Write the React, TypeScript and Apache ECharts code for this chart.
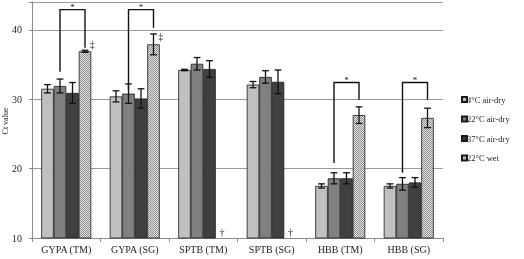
import React, { useEffect, useRef } from "react";
import * as echarts from "echarts";

// Gene targets on the category axis
const categories = ["GYPA (TM)", "GYPA (SG)", "SPTB (TM)", "SPTB (SG)", "HBB (TM)", "HBB (SG)"];
const seriesNames = ["4°C air-dry", "22°C air-dry", "37°C air-dry", "22°C wet"];
const yAxisTitle = "Ct value";

// Mean Ct values per storage condition
const ct4 = [31.5, 30.4, 34.2, 32.1, 17.5, 17.5];
const ct22 = [31.9, 30.8, 35.1, 33.2, 18.6, 17.8];
const ct37 = [30.9, 30.1, 34.35, 32.5, 18.6, 18.0];
const ctWet: (number | null)[] = [36.9, 37.9, null, null, 27.7, 27.3];

// Standard deviations
const sd4 = [0.6, 0.8, 0.1, 0.45, 0.3, 0.3];
const sd22 = [1.0, 1.4, 0.9, 0.9, 0.8, 0.9];
const sd37 = [1.5, 1.4, 1.2, 1.7, 0.8, 0.7];
const sdWet: (number | null)[] = [0.15, 1.5, null, null, 1.2, 1.4];

// Significance brackets: category, bracket top, left leg end, right leg end (Ct units)
const bracketCats = [0, 1, 4, 5];
const bracketTop = [42.9, 42.9, 32.4, 32.4];
const bracketLeftEnd = [33.95, 31.4, 20.8, 19.4];
const bracketRightEnd = [37.4, 40.3, 29.9, 29.9];

// Footnote symbols: category, Ct position, glyph
const noteCats = [0, 1, 2, 3];
const noteValues = [37.9, 39.0, 10, 10];
const noteGlyphs = ["‡", "‡", "†", "†"];

const yTicks = { min: 10, max: 44, interval: 10 };

const FONT = "Liberation Serif";
const CAT_GAP = 0.27;

function makePattern(): HTMLCanvasElement {
  const c = document.createElement("canvas");
  c.width = 2;
  c.height = 2;
  const g = c.getContext("2d")!;
  g.fillStyle = "#e4e4e4";
  g.fillRect(0, 0, 2, 2);
  g.fillStyle = "#8c8c8c";
  g.fillRect(0, 0, 1, 1);
  g.fillRect(1, 1, 1, 1);
  return c;
}

function barX(api: any, cat: number, s: number) {
  const center = api.coord([cat, 10])[0];
  const band = api.size([1, 0])[0];
  const bw = (band * (1 - CAT_GAP)) / 4;
  return { x: center + (s - 1.5) * bw, bw };
}

export default function App() {
  const ref = useRef<HTMLDivElement>(null);

  useEffect(() => {
    if (!ref.current) return;
    const chart = echarts.init(ref.current, undefined, { renderer: "svg" });
    const pattern = makePattern();

    const means = [ct4, ct22, ct37, ctWet];
    const sds = [sd4, sd22, sd37, sdWet];
    const fills: any[] = ["#c0c0c0", "#808080", "#404040", { image: pattern, repeat: "repeat" }];

    const errData: number[][] = [];
    means.forEach((arr, s) =>
      arr.forEach((v, i) => {
        const e = sds[s][i];
        if (v != null && e != null) errData.push([i, v, e, s]);
      })
    );

    const bars = seriesNames.map((name, s) => ({
      name,
      type: "bar",
      data: means[s].map((v) => (v == null ? "-" : v)),
      barGap: "0%",
      barCategoryGap: `${CAT_GAP * 100}%`,
      itemStyle: { color: fills[s], borderColor: "#1a1a1a", borderWidth: 0.8 },
      z: 2,
    }));

    const option: any = {
      animation: false,
      textStyle: { fontFamily: FONT },
      grid: { left: 32, right: 81, top: 2, bottom: 21, outerBoundsMode: "none", containLabel: false },
      graphic: [
        {
          type: "text",
          x: 5,
          y: 121,
          rotation: Math.PI / 2,
          style: {
            text: yAxisTitle,
            fill: "#222",
            font: `8px ${FONT}`,
            align: "center",
            verticalAlign: "middle",
          },
        },
      ],
      legend: {
        data: seriesNames,
        orient: "vertical",
        left: 456,
        top: 90,
        itemWidth: 5,
        itemHeight: 5,
        itemGap: 10.5,
        icon: "rect",
        textStyle: { fontFamily: FONT, fontSize: 8.5, color: "#222", padding: [0, 0, 0, -5] },
      },
      xAxis: {
        type: "category",
        data: categories,
        axisLine: { lineStyle: { color: "#8c8c8c" } },
        axisTick: { show: true, length: 4, lineStyle: { color: "#8c8c8c" } },
        axisLabel: { fontFamily: FONT, fontSize: 10, color: "#222", margin: 6, interval: 0 },
      },
      yAxis: {
        type: "value",
        min: yTicks.min,
        max: yTicks.max,
        interval: yTicks.interval,
        axisLine: { show: true, lineStyle: { color: "#8c8c8c" } },
        axisTick: { show: true, length: 3, lineStyle: { color: "#8c8c8c" } },
        axisLabel: {
          fontFamily: FONT,
          fontSize: 10,
          color: "#222",
          margin: 10,
          formatter: (v: number) => (v % yTicks.interval === 0 ? String(v) : ""),
        },
        splitLine: { lineStyle: { color: "#9a9a9a", width: 1 } },
      },
      series: [
        ...bars,
        {
          type: "custom",
          name: "sd",
          data: errData,
          z: 5,
          clip: false,
          renderItem: (params: any, api: any) => {
            const cat = api.value(0);
            const v = api.value(1);
            const e = api.value(2);
            const s = api.value(3);
            const { x } = barX(api, cat, s);
            const yHi = api.coord([cat, v + e])[1];
            const yLo = api.coord([cat, v - e])[1];
            const cap = 3.4;
            const st = { stroke: "#111", lineWidth: 1.3 };
            return {
              type: "group",
              children: [
                { type: "line", shape: { x1: x, y1: yHi, x2: x, y2: yLo }, style: st },
                { type: "line", shape: { x1: x - cap, y1: yHi, x2: x + cap, y2: yHi }, style: st },
                { type: "line", shape: { x1: x - cap, y1: yLo, x2: x + cap, y2: yLo }, style: st },
              ],
            };
          },
        },
        {
          type: "custom",
          name: "brackets",
          data: bracketCats.map((c, i) => [c, bracketTop[i], bracketLeftEnd[i], bracketRightEnd[i]]),
          z: 6,
          clip: false,
          renderItem: (params: any, api: any) => {
            const cat = api.value(0);
            const xl = barX(api, cat, 1).x;
            const xr = barX(api, cat, 3).x;
            const yt = api.coord([cat, api.value(1)])[1];
            const yl = api.coord([cat, api.value(2)])[1];
            const yr = api.coord([cat, api.value(3)])[1];
            const st = { stroke: "#111", lineWidth: 1.4 };
            return {
              type: "group",
              children: [
                { type: "polyline", shape: { points: [[xl, yl], [xl, yt], [xr, yt], [xr, yr]] }, style: { ...st, fill: "none" } },
                {
                  type: "text",
                  style: {
                    x: (xl + xr) / 2,
                    y: yt + 2,
                    text: "*",
                    fill: "#111",
                    font: `9px ${FONT}`,
                    align: "center",
                    verticalAlign: "bottom",
                  },
                },
              ],
            };
          },
        },
        {
          type: "custom",
          name: "notes",
          data: noteCats.map((c, i) => [c, noteValues[i]]),
          z: 6,
          clip: false,
          renderItem: (params: any, api: any) => {
            const cat = api.value(0);
            const { x, bw } = barX(api, cat, 3);
            const isTop = noteGlyphs[params.dataIndex] === "‡";
            const y = api.coord([cat, api.value(1)])[1];
            return {
              type: "text",
              style: {
                x: isTop ? x + bw / 2 + 1 : x,
                y: isTop ? y : y - 1,
                text: noteGlyphs[params.dataIndex],
                fill: "#222",
                font: `10px ${FONT}`,
                align: "center",
                verticalAlign: isTop ? "middle" : "bottom",
              },
            };
          },
        },
      ],
    };

    chart.setOption(option);
    return () => chart.dispose();
  }, []);

  return <div ref={ref} style={{ position: "fixed", left: 0, top: 0, width: 524, height: 259 }} />;
}
